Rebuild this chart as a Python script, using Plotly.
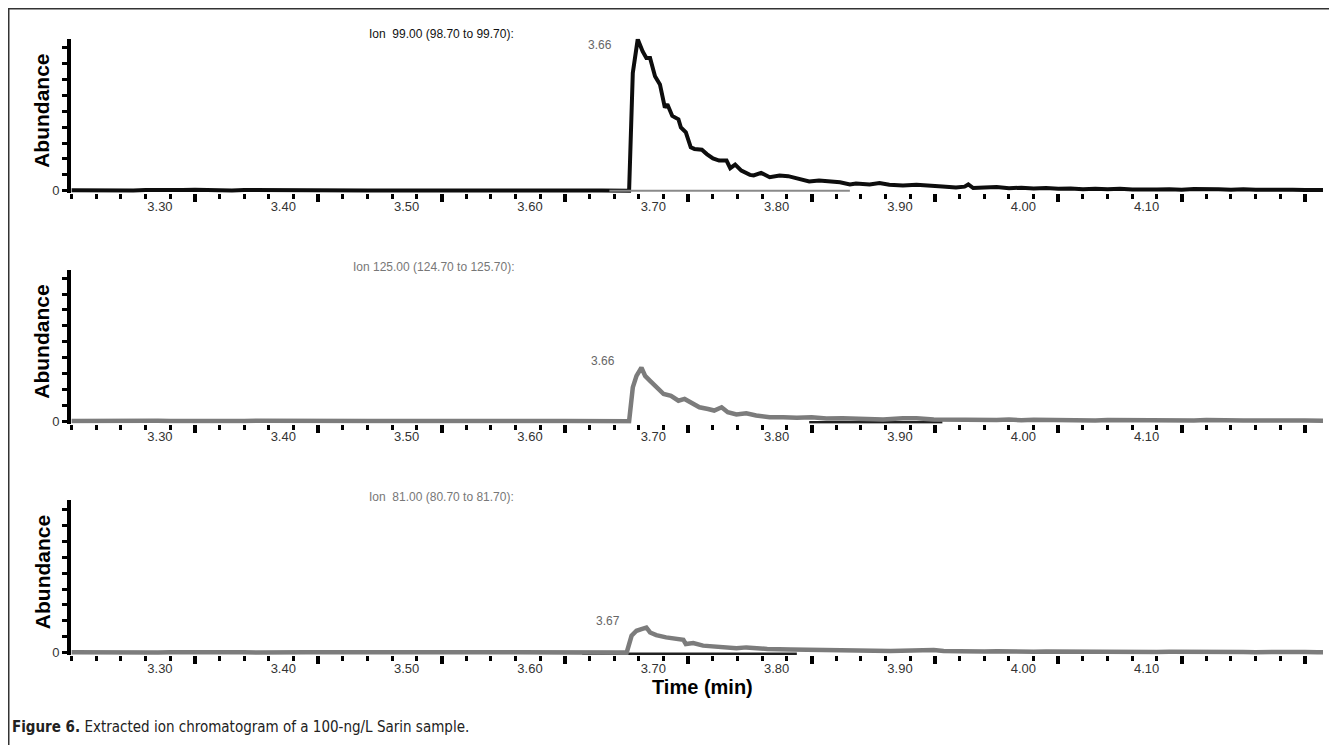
import plotly.graph_objects as go

# ---------------- data ----------------
ion_labels = ["Ion\u00a0 99.00 (98.70 to 99.70):",
              "Ion 125.00 (124.70 to 125.70):",
              "Ion\u00a0 81.00 (80.70 to 81.70):"]
peak_labels = ["3.66", "3.66", "3.67"]

x_major = [3.30, 3.40, 3.50, 3.60, 3.70, 3.80, 3.90, 4.00, 4.10, 4.20]
x_major_text = ["3.30", "3.40", "3.50", "3.60", "3.70", "3.80", "3.90", "4.00", "4.10", ""]
y_ticks = [0, 1000, 2000, 3000, 4000, 5000, 6000, 7000, 8000, 9000]
y_ticktext = ["0", "", "", "", "", "", "", "", "", ""]

base_t = [3.200, 3.210, 3.220, 3.230, 3.240, 3.250, 3.260, 3.270, 3.280, 3.290,
          3.300, 3.310, 3.320, 3.330, 3.340, 3.350, 3.360, 3.370, 3.380, 3.390,
          3.400, 3.410, 3.420, 3.430, 3.440, 3.450, 3.460, 3.470, 3.480, 3.490,
          3.500, 3.510, 3.520, 3.530, 3.540, 3.550, 3.560, 3.570, 3.580, 3.590,
          3.600, 3.610, 3.620, 3.630, 3.640, 3.648]

# Ion 99
ion99_t = base_t + [3.652, 3.655, 3.659, 3.663, 3.666, 3.669, 3.673, 3.677, 3.681, 3.683,
                    3.687, 3.692, 3.694, 3.698, 3.702, 3.705, 3.711, 3.715, 3.720, 3.725,
                    3.731, 3.734, 3.738, 3.743, 3.750, 3.753, 3.759, 3.766, 3.774, 3.781,
                    3.790, 3.798, 3.806, 3.816, 3.823, 3.831, 3.836, 3.847, 3.855, 3.863,
                    3.874, 3.885, 3.896, 3.906, 3.917, 3.924, 3.927, 3.931, 3.940, 3.950,
                    3.960, 3.970, 3.980, 3.990, 4.000, 4.010, 4.020, 4.030, 4.040, 4.050,
                    4.060, 4.070, 4.080, 4.090, 4.100, 4.110, 4.120, 4.130, 4.140, 4.150,
                    4.160, 4.170, 4.180, 4.190, 4.200, 4.210, 4.2146]
ion99_v = [30, 20, 40, 10, 30, 20, 50, 30, 20, 40,
           60, 30, 20, 10, 50, 40, 60, 50, 30, 20,
           10, 20, 30, 20, 10, 20, 30, 20, 10, 20,
           40, 20, 10, 20, 30, 20, 10, 20, 20, 10,
           30, 20, 10, 20, 10, 0] + \
          [0, 7420, 9540, 8770, 8350, 8350, 7210, 6690, 5230, 5440,
           4710, 4500, 3980, 3670, 2730, 2630, 2580, 2310, 2040, 1900,
           1900, 1420, 1650, 1270, 1000, 960, 1125, 855, 960, 920,
           750, 580, 645, 580, 540, 395, 460, 395, 480, 375,
           330, 375, 290, 270, 210, 260, 395, 170, 200, 230,
           160, 190, 140, 170, 120, 150, 100, 130, 90, 120,
           80, 110, 80, 100, 70, 110, 70, 90, 60, 100,
           60, 80, 50, 70, 50, 40, 40]

# Ion 125
ion125_t = base_t + [3.652, 3.655, 3.658, 3.662, 3.665, 3.669, 3.674, 3.680, 3.686, 3.692,
                     3.697, 3.702, 3.709, 3.716, 3.721, 3.727, 3.732, 3.739, 3.747, 3.755,
                     3.766, 3.777, 3.788, 3.800, 3.812, 3.825, 3.839, 3.858, 3.874, 3.885,
                     3.899, 3.910, 3.920, 3.930, 3.940, 3.950, 3.960, 3.970, 3.980, 3.990,
                     4.000, 4.010, 4.020, 4.030, 4.040, 4.050, 4.060, 4.070, 4.080, 4.090,
                     4.100, 4.110, 4.120, 4.130, 4.140, 4.150, 4.160, 4.170, 4.180, 4.190,
                     4.200, 4.210, 4.2146]
ion125_v = [20, 30, 10, 20, 30, 10, 20, 30, 20, 10,
            20, 30, 20, 10, 20, 30, 20, 10, 20, 30,
            10, 20, 30, 20, 10, 20, 30, 20, 10, 20,
            30, 20, 10, 20, 30, 20, 10, 20, 30, 20,
            10, 20, 30, 20, 10, 0] + \
           [0, 2125, 2850, 3375, 2850, 2540, 2125, 1710, 1600, 1290,
            1400, 1190, 875, 770, 670, 875, 560, 420, 500, 355,
            250, 250, 210, 250, 170, 190, 130, 110, 190, 190,
            110, 90, 120, 80, 100, 70, 110, 60, 90, 70,
            100, 60, 80, 50, 70, 60, 80, 50, 70, 40,
            60, 50, 70, 40, 60, 50, 40, 60, 40, 50,
            40, 30, 30]

# Ion 81
ion81_t = base_t + [3.650, 3.654, 3.658, 3.662, 3.666, 3.669, 3.674, 3.682, 3.690, 3.696,
                    3.698, 3.704, 3.712, 3.720, 3.728, 3.739, 3.747, 3.764, 3.783, 3.810,
                    3.837, 3.864, 3.899, 3.907, 3.920, 3.930, 3.940, 3.950, 3.960, 3.970,
                    3.980, 3.990, 4.000, 4.010, 4.020, 4.030, 4.040, 4.050, 4.060, 4.070,
                    4.080, 4.090, 4.100, 4.110, 4.120, 4.130, 4.140, 4.150, 4.160, 4.170,
                    4.180, 4.190, 4.200, 4.210, 4.2146]
ion81_v = [20, 10, 30, 20, 10, 20, 30, 10, 20, 30,
           20, 10, 20, 30, 20, 10, 30, 20, 10, 20,
           30, 20, 10, 20, 30, 20, 10, 20, 30, 20,
           10, 20, 30, 20, 10, 20, 30, 20, 30, 20,
           30, 20, 30, 20, 20, 10] + \
          [0, 1060, 1375, 1480, 1580, 1270, 1100, 960, 855, 810,
           540, 600, 440, 375, 330, 270, 330, 230, 190, 150,
           120, 100, 160, 100, 80, 110, 70, 90, 60, 80,
           50, 70, 60, 80, 50, 60, 40, 70, 50, 60,
           40, 50, 60, 40, 50, 30, 50, 40, 30, 50,
           40, 30, 40, 30, 30]

# integration baselines (start, end time)
ib99_t = [3.636, 3.831]
ib125_t = [3.798, 3.906]
ib81_t = [3.614, 3.788]

series_t = [ion99_t, ion125_t, ion81_t]
series_v = [ion99_v, ion125_v, ion81_v]

# ---------------- layout geometry (window pixels) ----------------
WIN_W, WIN_H = 1337, 750
OFF = 8                       # default page body margin
W, H = WIN_W - OFF, WIN_H - OFF
ax_left, ax_right = 71, 1323
x_range = [3.1995, 4.2146]
baseline_px = [192, 424, 657]
top_px = [39, 272, 503]
units_per_px = 62.5
pad_px = 2.5


def px_x(p):
    return (p - OFF) / W


def px_y(p):
    return 1 - (p - OFF) / H


FONT = "Arial, Liberation Sans, sans-serif"
TICKFONT = dict(family=FONT, size=13, color="#333333")

fig = go.Figure()

line_colors = ["#0d0d0d", "#7c7c7c", "#7c7c7c"]
line_widths = [4, 4.5, 4.5]
ibs = [ib99_t, ib125_t, ib81_t]
ib_colors = ["#8a8a8a", "#222222", "#222222"]
ib_vals = [0, -70, -70]

for i in range(3):
    xa = "x" if i == 0 else f"x{i+1}"
    ya = "y" if i == 0 else f"y{i+1}"
    main = go.Scatter(x=series_t[i], y=series_v[i], mode="lines",
                      line=dict(color=line_colors[i], width=line_widths[i]),
                      xaxis=xa, yaxis=ya, showlegend=False, hoverinfo="skip")
    integ = go.Scatter(x=ibs[i], y=[ib_vals[i]] * 2, mode="lines",
                       line=dict(color=ib_colors[i], width=2 if i == 0 else 2.5),
                       xaxis=xa, yaxis=ya, showlegend=False, hoverinfo="skip")
    if i == 0:
        fig.add_trace(main)
        fig.add_trace(integ)
    else:
        fig.add_trace(integ)
        fig.add_trace(main)

layout = dict(
    width=W, height=H,
    margin=dict(l=0, r=0, t=0, b=0),
    paper_bgcolor="white", plot_bgcolor="white",
    showlegend=False,
)

annotations = []
for i in range(3):
    xk = "xaxis" if i == 0 else f"xaxis{i+1}"
    yk = "yaxis" if i == 0 else f"yaxis{i+1}"
    ya = "y" if i == 0 else f"y{i+1}"
    xa = "x" if i == 0 else f"x{i+1}"
    bottom = baseline_px[i] + pad_px
    top = top_px[i]
    layout[xk] = dict(
        domain=[px_x(ax_left), px_x(ax_right)], range=x_range, anchor=ya,
        showgrid=False, zeroline=False, showline=False,
        tickmode="array", tickvals=x_major, ticktext=x_major_text,
        ticks="outside", ticklen=8, tickwidth=3.5, tickcolor="black",
        ticklabelshift=-35, ticklabelstandoff=-7,
        tickfont=TICKFONT,
        minor=dict(ticks="outside", tick0=3.20, dtick=0.02, ticklen=5,
                   tickwidth=2.5, tickcolor="black", showgrid=False),
    )
    layout[yk] = dict(
        domain=[px_y(bottom), px_y(top)],
        range=[-pad_px * units_per_px, (baseline_px[i] - top) * units_per_px],
        anchor=xa, showgrid=False, zeroline=False,
        showline=True, linewidth=4, linecolor="black",
        tickmode="array", tickvals=y_ticks, ticktext=y_ticktext,
        ticks="outside", ticklen=5, tickwidth=2.5, tickcolor="black",
        tickfont=TICKFONT,
    )
    # ion label
    annotations.append(dict(
        text=ion_labels[i], xref="paper", yref="paper",
        x=px_x(516), y=px_y(top - (5 if i == 0 else 3)),
        xanchor="right", yanchor="middle", showarrow=False,
        font=dict(family=FONT, size=12,
                  color="#111111" if i == 0 else "#777777"),
    ))
    # Abundance title
    annotations.append(dict(
        text="<b>Abundance</b>", xref="paper", yref="paper",
        x=px_x(42), y=px_y((baseline_px[i] + top) / 2 - 4),
        xanchor="center", yanchor="middle", textangle=-90, showarrow=False,
        font=dict(family=FONT, size=21, color="black"),
    ))
    # retention-time peak label
    vmax = max(series_v[i])
    tmax = series_t[i][series_v[i].index(vmax)]
    annotations.append(dict(
        text=peak_labels[i], x=tmax, y=vmax, xref=xa, yref=ya,
        xshift=-38, yshift=(-6 if i == 0 else 7),
        xanchor="center", yanchor="middle", showarrow=False,
        font=dict(family=FONT, size=12, color="#666666"),
    ))

annotations.append(dict(
    text="<b>Time (min)</b>", xref="paper", yref="paper",
    x=px_x(702), y=px_y(692), xanchor="center", yanchor="middle", showarrow=False,
    font=dict(family=FONT, size=20, color="black"),
))
annotations.append(dict(
    text="<b>Figure 6.</b> Extracted ion chromatogram of a 100-ng/L Sarin sample.",
    xref="paper", yref="paper", x=px_x(10), y=px_y(732),
    xanchor="left", yanchor="middle", showarrow=False,
    font=dict(family="DejaVu Sans Condensed, Liberation Sans Narrow, Arial Narrow, sans-serif",
              size=15, color="#222222"),
))
layout["annotations"] = annotations

layout["shapes"] = [
    dict(type="line", xref="paper", yref="paper", x0=0, x1=1, y0=px_y(8.5), y1=px_y(8.5),
         line=dict(color="#333333", width=2)),
    dict(type="line", xref="paper", yref="paper", x0=px_x(8.5), x1=px_x(8.5), y0=px_y(8), y1=0,
         line=dict(color="#333333", width=2)),
]

fig.update_layout(**layout)
fig.write_html("out.html")
